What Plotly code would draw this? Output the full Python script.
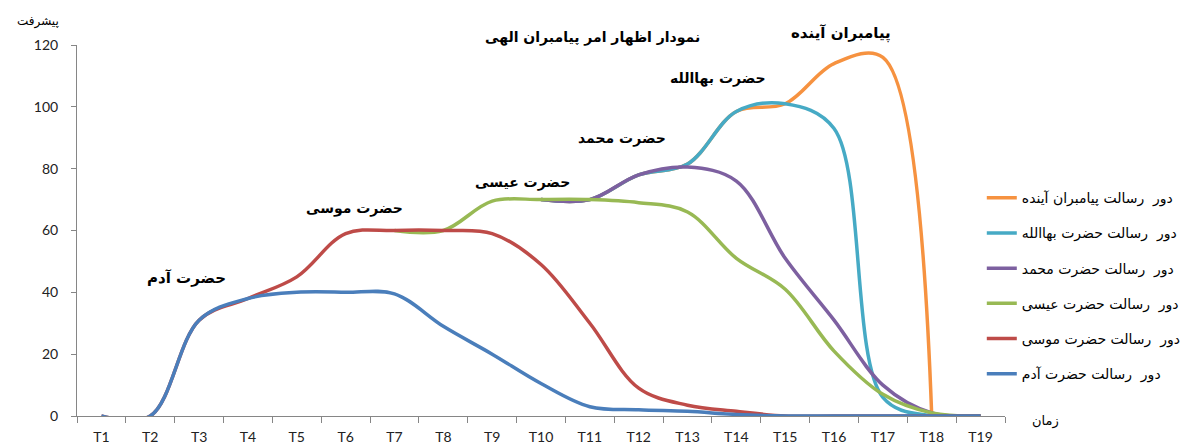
import plotly.graph_objects as go

categories = ["T1", "T2", "T3", "T4", "T5", "T6", "T7", "T8", "T9", "T10",
              "T11", "T12", "T13", "T14", "T15", "T16", "T17", "T18", "T19"]

adam = [0, 0, 31, 38, 40, 40, 39.5, 29, 20, 10.5, 3, 2, 1.5, 0.5, 0, 0, 0, 0, 0]
moses = [0, 0, 31, 38, 45, 59, 60, 60, 59, 49, 30, 9, 3.5, 1.5, 0, 0, 0, 0, 0]
jesus = [None] * 6 + [60, 60, 69.5, 70, 70, 69, 66, 51, 41, 21, 7, 1, 0]
muhammad = [None] * 9 + [70, 70, 78, 80.5, 76, 51, 31, 10, 1, 0]
bahaullah = [None] * 9 + [70, 70, 78, 81.5, 98.5, 101, 93, 6, 0, 0]
future = [None] * 9 + [70, 70, 78, 81.5, 98.5, 101, 114, 116, 0, None]

series_names = [
    "دور  رسالت حضرت آدم",
    "دور  رسالت حضرت موسی",
    "دور  رسالت حضرت عیسی",
    "دور  رسالت حضرت محمد",
    "دور  رسالت حضرت بهاالله",
    "دور  رسالت پیامبران آینده",
]
series_values = [adam, moses, jesus, muhammad, bahaullah, future]
series_colors = ["#4a7ebb", "#be4b48", "#98b954", "#7d60a0", "#46aac5", "#f69240"]

labels = ["حضرت آدم", "حضرت موسی", "حضرت عیسی", "حضرت محمد", "حضرت بهاالله", "پیامبران آینده"]
title_text = "نمودار اظهار امر پیامبران الهی"

fig = go.Figure()
# draw later series first so that earlier series lie on top (as in the reference)
for i in reversed(range(len(series_values))):
    fig.add_trace(go.Scatter(
        x=categories, y=series_values[i], name=series_names[i],
        mode="lines", legendgroup=str(i),
        line=dict(color=series_colors[i], width=3.5, shape="spline", smoothing=1),
        connectgaps=False,
    ))

arab_font = "DejaVu Sans"
label_pos = [(186, 278), (354, 208), (522, 182), (622, 138), (718, 78), (841, 33)]
label_sizes = [15, 14, 14, 14, 14, 15]
annotations = []
L, R, T, B = 77, 1005, 45, 416
def px2paper(px, py):
    return (px - L) / (R - L), (B - py) / (B - T)

def add_text(txt, px, py, size, bold):
    xp, yp = px2paper(px, py)
    annotations.append(dict(text=("<b>" + txt + "</b>") if bold else txt,
                            x=xp, y=yp, xref="paper", yref="paper",
                            xanchor="center", yanchor="middle", showarrow=False,
                            font=dict(family=arab_font, size=size, color="#000")))

for txt, (px, py), sz in zip(labels, label_pos, label_sizes):
    add_text(txt, px, py, sz, True)
add_text(title_text, 592, 37, 14, True)
add_text("پیشرفت", 38, 22, 12, False)
add_text("زمان", 1045, 421, 13, False)

fig.update_layout(
    width=1200, height=448, autosize=False,
    margin=dict(l=L, r=1200 - R, t=T, b=448 - B, autoexpand=False),
    paper_bgcolor="white", plot_bgcolor="white",
    showlegend=True,
    legend=dict(x=0.975, xanchor="left", y=0.35, yanchor="middle",
                traceorder="grouped", tracegroupgap=14,
                font=dict(family=arab_font, size=14, color="#000"),
                bgcolor="rgba(0,0,0,0)"),
    annotations=annotations,
    xaxis=dict(type="category", range=[-0.5, 18.5], tickson="boundaries",
               ticks="outside", ticklen=6, tickcolor="#868686",
               showline=True, linecolor="#868686", linewidth=1,
               showgrid=False, zeroline=False, ticklabelstandoff=8, automargin=False,
               tickfont=dict(family="Lato", size=14, color="#222")),
    yaxis=dict(range=[0, 120], tickvals=[0, 20, 40, 60, 80, 100, 120],
               ticks="outside", ticklen=5, tickcolor="#868686",
               showline=True, linecolor="#868686", linewidth=1,
               showgrid=False, zeroline=False, ticklabelstandoff=10, automargin=False,
               tickfont=dict(family="Lato", size=14, color="#222")),
)

fig.write_html("out.html", config={"displayModeBar": False},
               post_script="document.body.style.margin='0';")
